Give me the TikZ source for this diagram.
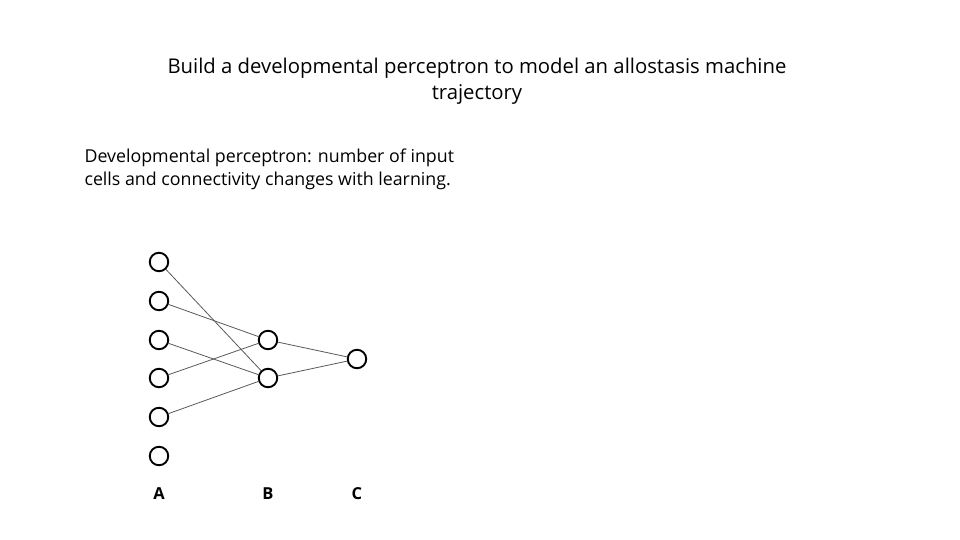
\documentclass[tikz,border=0pt]{standalone}
\usepackage{fontspec}
\setmainfont{Open Sans}
\begin{document}
\begin{tikzpicture}[x=1pt,y=-1pt,
  neuron/.style={circle,draw=black,line width=1.9pt,minimum size=18.5pt,inner sep=0pt,fill=white},
  link/.style={draw=black!65,line width=0.8pt},
  lbl/.style={font=\fontsize{16.5}{18}\selectfont\bfseries}]
\useasboundingbox (0,0) rectangle (960,540);
\node[align=center,font=\fontsize{20.3}{26}\selectfont] (title) at (477,81) {Build a developmental perceptron to model an allostasis machine\\trajectory};
\node[align=left,font=\fontsize{17.8}{23}\selectfont,anchor=west] (sub) at (81,169) {Developmental perceptron: number of input\\cells and connectivity changes with learning.};
\foreach \i/\y in {1/262,2/301,3/340,4/378,5/417,6/456}{
  \node[neuron] (a\i) at (159,\y) {};
}
\node[neuron] (b1) at (268,340) {};
\node[neuron] (b2) at (268,378) {};
\node[neuron] (c1) at (357,359) {};
\draw[link] (a1) -- (b2);
\draw[link] (a2) -- (b1);
\draw[link] (a3) -- (b2);
\draw[link] (a4) -- (b1);
\draw[link] (a5) -- (b2);
\draw[link] (b1) -- (c1);
\draw[link] (b2) -- (c1);
\node[lbl] (la) at (159,494) {A};
\node[lbl] (lb) at (268,494) {B};
\node[lbl] (lc) at (357,494) {C};
\end{tikzpicture}
\end{document}
